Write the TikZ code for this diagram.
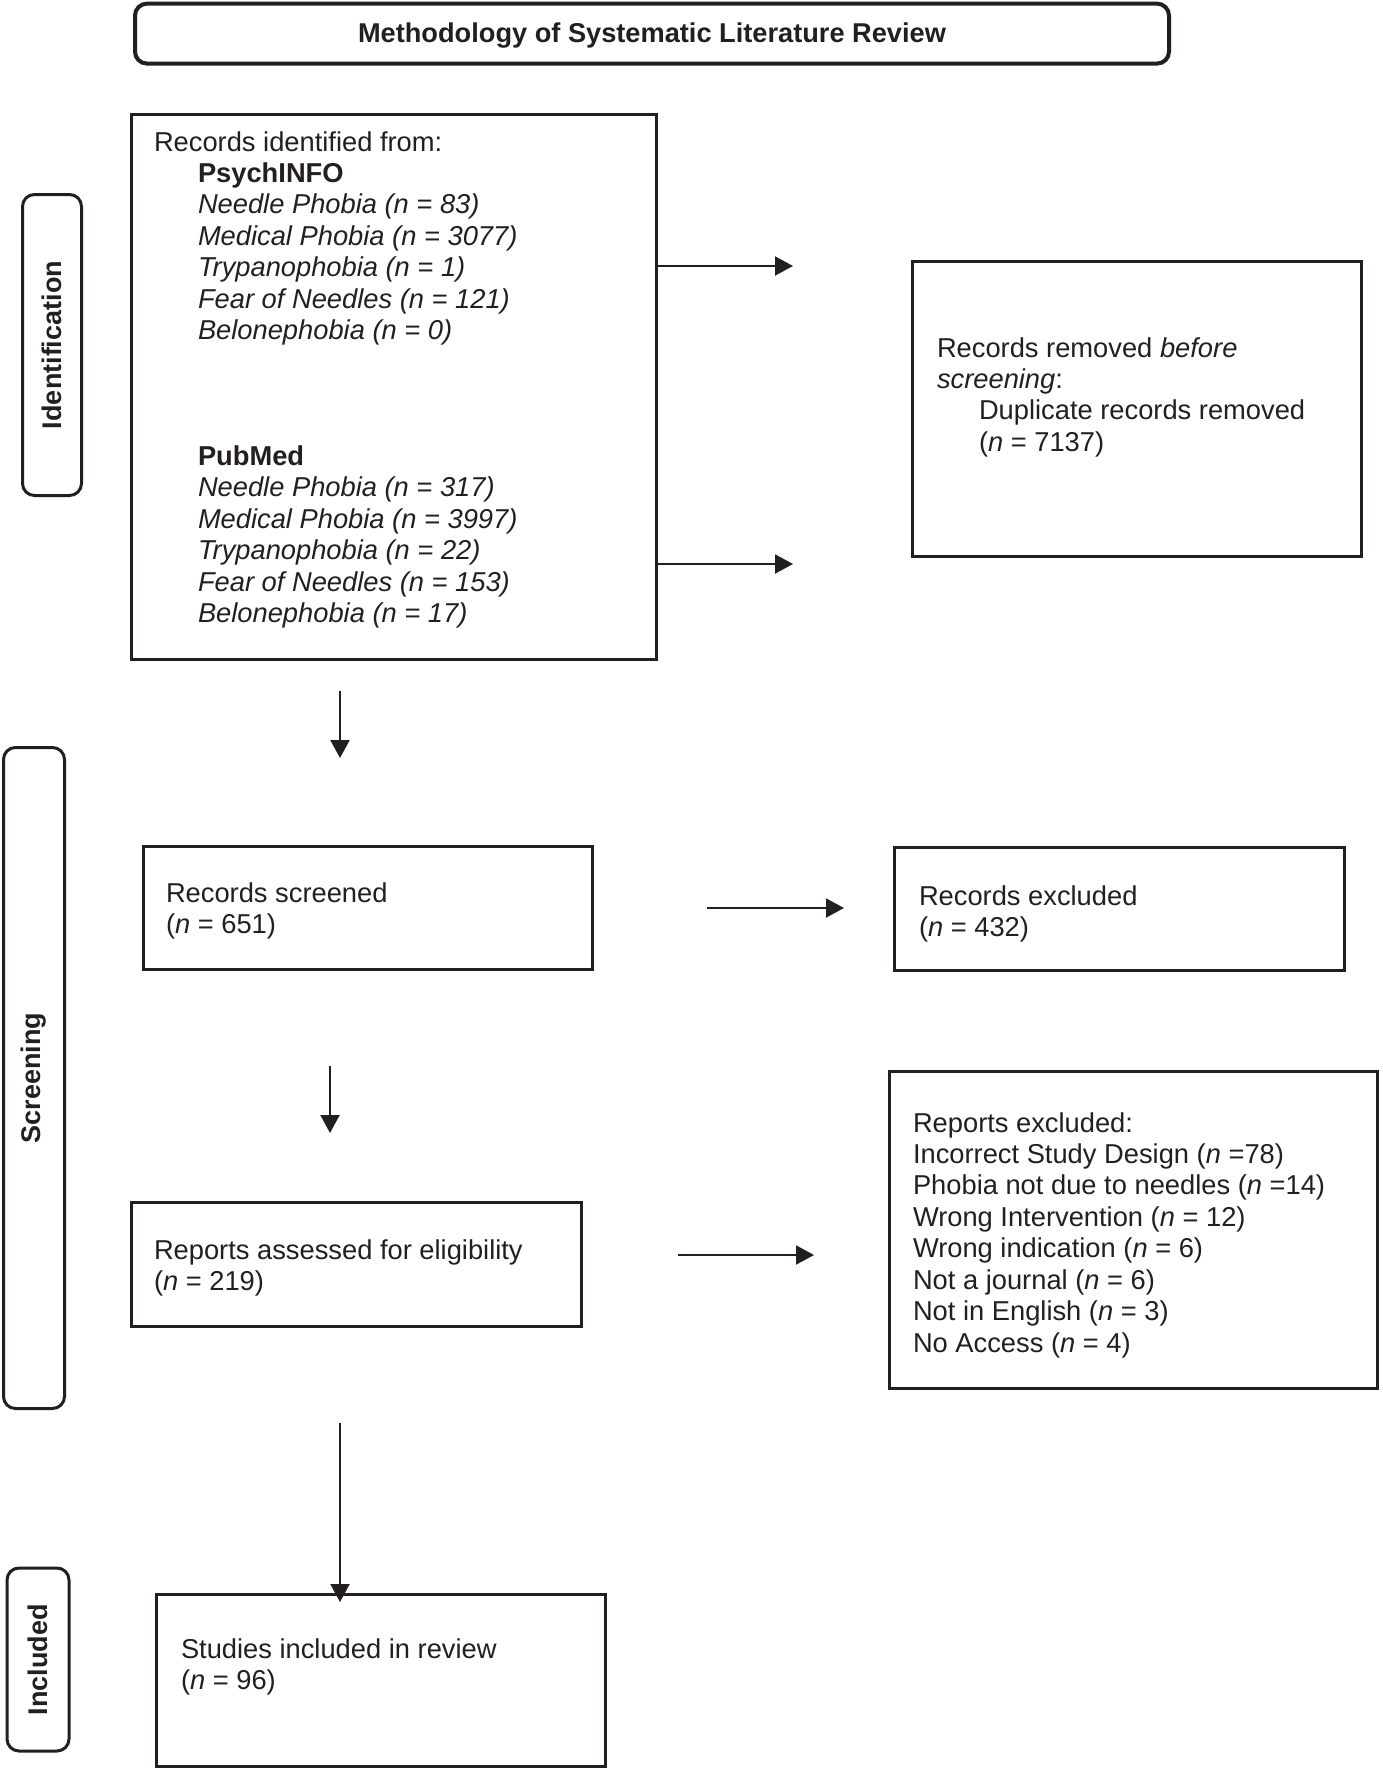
\documentclass[tikz,border=0pt]{standalone}
\usepackage{fontspec}
\setmainfont{Liberation Sans}
\usetikzlibrary{arrows.meta}
\definecolor{ink}{HTML}{231F20}
\newcommand\stacklines[1]{\vtop{\baselineskip=31.45pt\lineskiplimit=-1000pt\lineskip=0pt\relax #1}}
\newcommand\rowtext[1]{\hbox{#1}}
\newcommand\ind{\hskip44pt}
\begin{document}
\begin{tikzpicture}[x=1pt,y=-1pt,
  box/.style={draw=ink, line width=3pt, inner sep=0pt, outer sep=0pt},
  phase/.style={draw=ink, line width=3pt, rounded corners=12pt, inner sep=0pt, outer sep=0pt},
  txt/.style={anchor=base west, inner sep=0pt, outer sep=0pt, text=ink, font=\fontsize{27.3pt}{31.45pt}\selectfont},
  lbl/.style={inner sep=0pt, text=ink, rotate=90, font=\fontsize{27pt}{31.4pt}\selectfont\bfseries},
  arr/.style={draw=ink, line width=2pt, -{Triangle[length=18pt,width=19pt]}}]
\useasboundingbox (0,0) rectangle (1382,1770);
\fill[white] (0,0) rectangle (1382,1770);

% title
\node[phase, line width=4pt, minimum width=1034pt, minimum height=60pt] (title) at (652,33.6) {};
\node[txt, anchor=base, font=\fontsize{27.2pt}{31.4pt}\selectfont\bfseries] (titletxt) at (652,42) {Methodology of Systematic Literature Review};

% phase labels
\node[phase, minimum width=59pt, minimum height=301pt] (ident) at (52,345) {};
\node[lbl] (identtxt) at (52,345) {Identification};
\node[phase, minimum width=61pt, minimum height=661pt] (screen) at (34,1078) {};
\node[lbl] (screentxt) at (34,1078) {Screening};
\node[phase, minimum width=62pt, minimum height=183pt] (incl) at (38,1659.5) {};
\node[lbl] (incltxt) at (38,1659.5) {Included};

% boxes
\node[box, minimum width=525pt, minimum height=545pt] (rec) at (394,387) {};
\node[txt] (rectxt) at (154,151) {\stacklines{%
\rowtext{Records identified from:}
\rowtext{\ind\textbf{PsychINFO}}
\rowtext{\ind\textit{Needle Phobia (n = 83)}}
\rowtext{\ind\textit{Medical Phobia (n = 3077)}}
\rowtext{\ind\textit{Trypanophobia (n = 1)}}
\rowtext{\ind\textit{Fear of Needles (n = 121)}}
\rowtext{\ind\textit{Belonephobia (n = 0)}}
\rowtext{}
\rowtext{}
\rowtext{}
\rowtext{\ind\textbf{PubMed}}
\rowtext{\ind\textit{Needle Phobia (n = 317)}}
\rowtext{\ind\textit{Medical Phobia (n = 3997)}}
\rowtext{\ind\textit{Trypanophobia (n = 22)}}
\rowtext{\ind\textit{Fear of Needles (n = 153)}}
\rowtext{\ind\textit{Belonephobia (n = 17)}}}};

\node[box, minimum width=449pt, minimum height=295pt] (removed) at (1137,409) {};
\node[txt] (removedtxt) at (937,357) {\stacklines{%
\rowtext{Records removed \textit{before}}
\rowtext{\textit{screening}:}
\rowtext{\hskip42pt Duplicate records removed}
\rowtext{\hskip42pt (\textit{n} = 7137)}}};

\node[box, minimum width=449pt, minimum height=123pt] (screened) at (368,908) {};
\node[txt] (screenedtxt) at (166,902) {\stacklines{%
\rowtext{Records screened}
\rowtext{(\textit{n} = 651)}}};

\node[box, minimum width=450pt, minimum height=123pt] (excluded) at (1119.5,909) {};
\node[txt] (excludedtxt) at (919,905) {\stacklines{%
\rowtext{Records excluded}
\rowtext{(\textit{n} = 432)}}};

\node[box, minimum width=450pt, minimum height=124pt] (assessed) at (356.5,1264.5) {};
\node[txt] (assessedtxt) at (154,1259) {\stacklines{%
\rowtext{Reports assessed for eligibility}
\rowtext{(\textit{n} = 219)}}};

\node[box, minimum width=488pt, minimum height=317pt] (repexcl) at (1133.5,1230) {};
\node[txt] (repexcltxt) at (913,1132) {\stacklines{%
\rowtext{Reports excluded:}
\rowtext{Incorrect Study Design (\textit{n} =78)}
\rowtext{Phobia not due to needles (\textit{n} =14)}
\rowtext{Wrong Intervention (\textit{n} = 12)}
\rowtext{Wrong indication (\textit{n} = 6)}
\rowtext{Not a journal (\textit{n} = 6)}
\rowtext{Not in English (\textit{n} = 3)}
\rowtext{No Access (\textit{n} = 4)}}};

\node[box, minimum width=449pt, minimum height=172pt] (studies) at (381,1680) {};
\node[txt] (studiestxt) at (181,1658) {\stacklines{%
\rowtext{Studies included in review}
\rowtext{(\textit{n} = 96)}}};

% connectors
\coordinate (r1) at (793,266);
\coordinate (r2) at (793,564);
\draw[arr] (rec.east |- r1) -- (r1);
\draw[arr] (rec.east |- r2) -- (r2);

\coordinate (d1a) at (340,691);
\coordinate (d1b) at (340,758);
\draw[arr] (d1a) -- (d1b);

\coordinate (h1a) at (707,908);
\coordinate (h1b) at (844,908);
\draw[arr] (h1a) -- (h1b);

\coordinate (d2a) at (330,1066);
\coordinate (d2b) at (330,1133);
\draw[arr] (d2a) -- (d2b);

\coordinate (h2a) at (678,1255);
\coordinate (h2b) at (814,1255);
\draw[arr] (h2a) -- (h2b);

\coordinate (d3a) at (340,1423);
\draw[arr] (d3a) -- ([yshift=-8pt]studies.north -| d3a);
\end{tikzpicture}
\end{document}
